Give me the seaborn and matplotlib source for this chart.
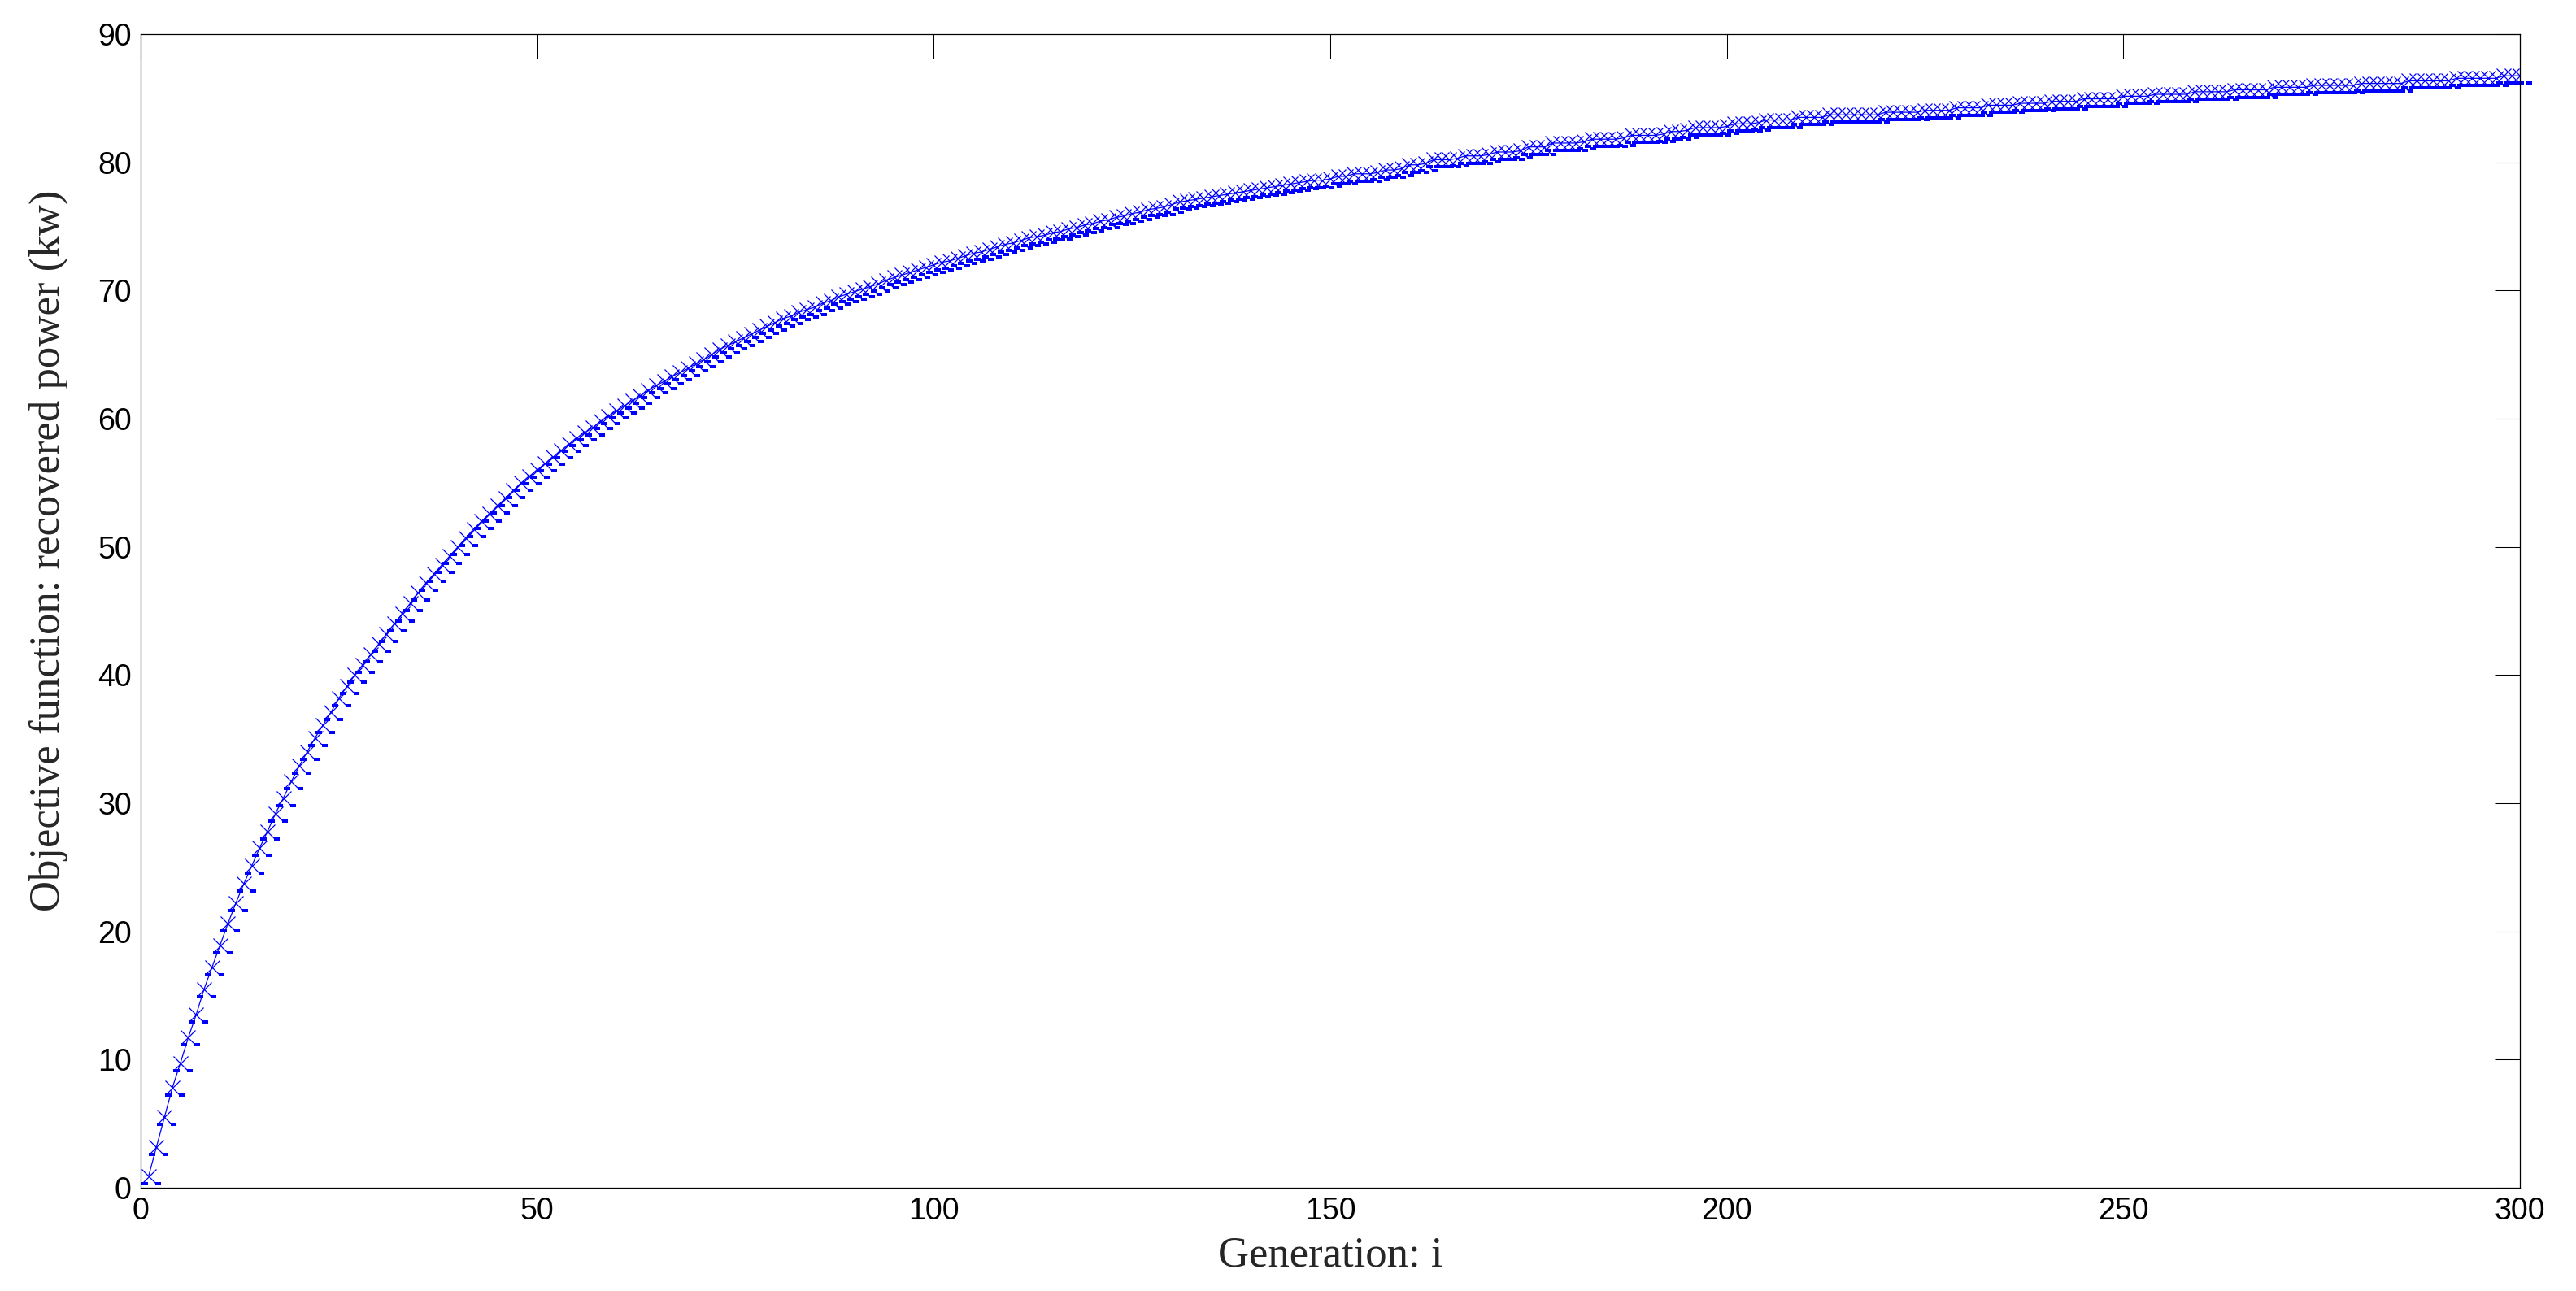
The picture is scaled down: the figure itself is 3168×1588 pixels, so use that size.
import numpy as np
import pandas as pd
import matplotlib
matplotlib.use('Agg')
import matplotlib.pyplot as plt
from matplotlib.path import Path
import seaborn as sns

# generations 1..300
generation = list(range(1, 301))

# recovered power (kw) per generation
recovered_power = [
    0.9, 3.2, 5.5, 7.8, 9.7, 11.7, 13.5, 15.5, 17.2, 18.9,
    20.6, 22.2, 23.7, 25.1, 26.5, 27.8, 29.2, 30.4, 31.7, 32.9,
    34.0, 35.1, 36.1, 37.1, 38.2, 39.1, 40.0, 40.8, 41.6, 42.4,
    43.2, 44.0, 44.8, 45.6, 46.4, 47.2, 47.9, 48.6, 49.3, 50.0,
    50.7, 51.4, 52.0, 52.6, 53.2, 53.8, 54.4, 55.0, 55.5, 56.0,
    56.5, 57.0, 57.5, 58.0, 58.5, 58.9, 59.3, 59.8, 60.2, 60.6,
    61.0, 61.4, 61.8, 62.2, 62.6, 62.9, 63.3, 63.6, 63.9, 64.3,
    64.6, 65.0, 65.4, 65.7, 66.0, 66.3, 66.6, 66.9, 67.2, 67.5,
    67.8, 68.0, 68.3, 68.5, 68.7, 69.0, 69.2, 69.5, 69.7, 69.9,
    70.1, 70.3, 70.5, 70.8, 71.0, 71.2, 71.4, 71.6, 71.8, 72.0,
    72.2, 72.3, 72.5, 72.7, 72.9, 73.0, 73.2, 73.4, 73.6, 73.7,
    73.9, 74.1, 74.2, 74.3, 74.5, 74.6, 74.8, 74.9, 75.1, 75.2,
    75.4, 75.5, 75.7, 75.8, 76.0, 76.1, 76.3, 76.4, 76.5, 76.7,
    76.9, 77.0, 77.1, 77.2, 77.3, 77.4, 77.5, 77.6, 77.7, 77.8,
    77.9, 78.0, 78.1, 78.2, 78.3, 78.4, 78.5, 78.6, 78.6, 78.7,
    78.9, 78.9, 79.1, 79.1, 79.1, 79.2, 79.4, 79.4, 79.5, 79.8,
    79.8, 79.9, 80.2, 80.2, 80.2, 80.3, 80.5, 80.5, 80.5, 80.6,
    80.8, 80.8, 80.8, 80.9, 81.2, 81.2, 81.2, 81.5, 81.5, 81.5,
    81.5, 81.6, 81.8, 81.8, 81.8, 81.8, 81.9, 82.1, 82.1, 82.1,
    82.1, 82.2, 82.4, 82.4, 82.5, 82.7, 82.7, 82.7, 82.7, 82.8,
    83.0, 83.0, 83.0, 83.1, 83.3, 83.3, 83.3, 83.3, 83.5, 83.5,
    83.5, 83.5, 83.7, 83.7, 83.7, 83.7, 83.7, 83.7, 83.7, 83.9,
    83.9, 83.9, 83.9, 83.9, 84.05, 84.05, 84.05, 84.05, 84.25, 84.25,
    84.25, 84.25, 84.45, 84.45, 84.45, 84.45, 84.6, 84.6, 84.6, 84.6,
    84.75, 84.75, 84.75, 84.75, 84.95, 84.95, 84.95, 84.95, 84.95, 85.15,
    85.15, 85.15, 85.15, 85.3, 85.3, 85.3, 85.3, 85.3, 85.5, 85.5,
    85.5, 85.5, 85.5, 85.65, 85.65, 85.65, 85.65, 85.65, 85.85, 85.85,
    85.85, 85.85, 85.85, 86.0, 86.0, 86.0, 86.0, 86.0, 86.0, 86.15,
    86.15, 86.15, 86.15, 86.15, 86.15, 86.35, 86.35, 86.35, 86.35, 86.35,
    86.35, 86.55, 86.55, 86.55, 86.55, 86.55, 86.55, 86.75, 86.75, 86.75,
]

x_ticks = [0, 50, 100, 150, 200, 250, 300]
y_ticks = [0, 10, 20, 30, 40, 50, 60, 70, 80, 90]

df = pd.DataFrame({'generation': generation, 'power': recovered_power})

sns.set_style("white")
plt.rcParams['font.family'] = ['Liberation Sans', 'DejaVu Sans']

blue = '#0000ff'

fig = plt.figure(figsize=(31.68, 15.88), dpi=100)
ax = fig.add_axes([0.0546, 0.0800, 0.9236, 0.8936])

# main curve with x markers
sns.lineplot(data=df, x='generation', y='power', ax=ax, color=blue,
             linewidth=0.9, marker='x', markersize=12.7, markeredgewidth=0.9,
             markeredgecolor=blue, estimator=None, sort=False)

# the little filled blocks under each x marker (export artefact of the original)
blocks = Path([(-8.6, -11.5), (-1.4, -11.5), (-1.4, -7.3), (-8.6, -7.3), (-8.6, -11.5),
               (8.0, -11.5), (14.6, -11.5), (14.6, -7.3), (8.0, -7.3), (8.0, -11.5)],
              [Path.MOVETO, Path.LINETO, Path.LINETO, Path.LINETO, Path.CLOSEPOLY,
               Path.MOVETO, Path.LINETO, Path.LINETO, Path.LINETO, Path.CLOSEPOLY])
ax.plot(df['generation'], df['power'], linestyle='none', marker=blocks,
        markersize=21, markerfacecolor=blue, markeredgewidth=0, clip_on=False,
        antialiased=False)

ax.set_xlim(0, 300)
ax.set_ylim(0, 90)
ax.set_xticks(x_ticks)
ax.set_yticks(y_ticks)
ax.tick_params(direction='in', top=True, right=True, length=21.6, width=0.75,
               labelsize=27, pad=8, colors='black')
for s in ax.spines.values():
    s.set_visible(True)
    s.set_color('black')
    s.set_linewidth(0.9)

ax.set_xlabel('Generation: i', fontsize=38, family=['Liberation Serif', 'DejaVu Serif'])
ax.set_ylabel('Objective function: recovered power (kw)', fontsize=38,
              family=['Liberation Serif', 'DejaVu Serif'])
ax.xaxis.label.set_va('center')
ax.yaxis.label.set_va('center')
ax.xaxis.set_label_coords(0.5, -0.059)
ax.yaxis.set_label_coords(-0.0386, 0.552)

fig.savefig('out.png', dpi=100, facecolor='white')
plt.close(fig)
